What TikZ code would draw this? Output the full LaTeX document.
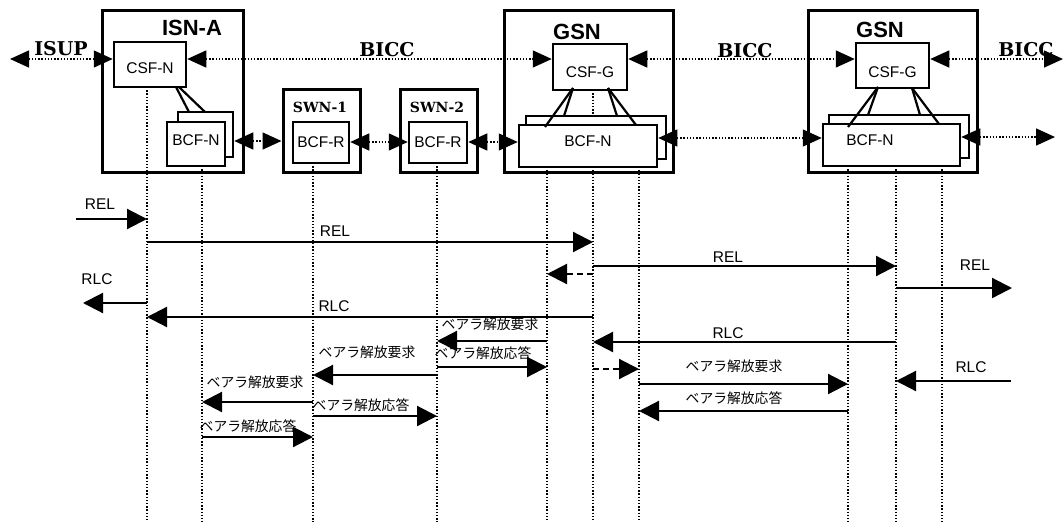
\documentclass[tikz,border=0pt]{standalone}
\usepackage{fontspec}
\setmainfont{Liberation Sans}
\newfontfamily\jpfont{Noto Sans CJK JP}
\newfontfamily\serifbold{DejaVu Serif}
\usetikzlibrary{arrows.meta,calc}
\tikzset{
  outerbox/.style={draw, line width=3pt, inner sep=0pt},
  innerbox/.style={draw, line width=2.5pt, inner sep=0pt, fill=white},
  conn/.style={line width=1.4pt, dash pattern=on 1.4pt off 1.8pt,
     {Triangle[length=19pt,width=17pt]}-{Triangle[length=19pt,width=17pt]}},
  msg/.style={line width=2.2pt, -{Triangle[length=20pt,width=20pt]}},
  dmsg/.style={msg, dash pattern=on 6pt off 4pt},
  life/.style={line width=1.4pt, dash pattern=on 1.3pt off 1.9pt},
  link/.style={line width=2.2pt},
  lbl/.style={inner sep=0pt, font=\fontsize{15.5}{17}\selectfont},
  jlbl/.style={inner sep=0pt, font=\jpfont\fontsize{13.8}{15}\selectfont},
  big/.style={inner sep=0pt, font=\fontsize{22}{24}\selectfont\bfseries},
  sbig/.style={inner sep=0pt, font=\serifbold\fontsize{19}{21}\selectfont\bfseries},
  ssmall/.style={inner sep=0pt, font=\serifbold\fontsize{14}{16}\selectfont\bfseries},
}
\begin{document}
\begin{tikzpicture}[x=1pt,y=-1pt]
\useasboundingbox (0,0) rectangle (1064,525);

% ---------- ISN-A ----------
\node[outerbox, minimum width=141pt, minimum height=162pt] (isn) at (172.5,91) {};
\node[big] (isnl) at (192,28) {ISN-A};
\node[innerbox, minimum width=72pt, minimum height=45pt] (csfn) at (150,64.5) {};
\node[lbl] (csfnl) at (150,68) {CSF-N};
\node[innerbox, minimum width=55pt, minimum height=45pt] (bnb) at (205.5,134.5) {};
\node[innerbox, minimum width=58pt, minimum height=44pt] (bnf) at (196,144) {};
\node[lbl] (bnfl) at (196,140) {BCF-N};
\coordinate (isnA1) at (176,87); \coordinate (isnB1) at (189,112);
\coordinate (isnA2) at (179,87); \coordinate (isnB2) at (205,112);
\draw[link] (isnA1) -- (isnB1);
\draw[link] (isnA2) -- (isnB2);

% ---------- SWN-1 ----------
\node[outerbox, minimum width=77pt, minimum height=83pt] (swn1) at (321.5,130.5) {};
\node[ssmall] (swn1l) at (320,107) {SWN-1};
\node[innerbox, minimum width=56pt, minimum height=41pt] (bcfr1) at (321,142.5) {};
\node[lbl] (bcfr1l) at (321,142) {BCF-R};

% ---------- SWN-2 ----------
\node[outerbox, minimum width=77pt, minimum height=83pt] (swn2) at (438.5,130.5) {};
\node[ssmall] (swn2l) at (437,107) {SWN-2};
\node[innerbox, minimum width=58pt, minimum height=41pt] (bcfr2) at (438,142.5) {};
\node[lbl] (bcfr2l) at (438,142) {BCF-R};

% ---------- GSN 1 ----------
\node[outerbox, minimum width=169pt, minimum height=162pt] (gsn1) at (588.5,91) {};
\node[big] (gsn1l) at (577,32) {GSN};
\node[innerbox, minimum width=74pt, minimum height=46pt] (csfg1) at (590,67) {};
\node[lbl] (csfg1l) at (590,72) {CSF-G};
\node[innerbox, minimum width=140pt, minimum height=43pt] (gb1) at (596,137.5) {};
\node[innerbox, minimum width=138pt, minimum height=42pt] (gf1) at (588,146) {};
\node[lbl] (gf1l) at (588,141) {BCF-N};
\coordinate (g1a) at (573,88); \coordinate (g1b) at (608,88);
\coordinate (g1c) at (545,127); \coordinate (g1d) at (564,116);
\coordinate (g1e) at (617,116); \coordinate (g1f) at (636,125);
\draw[link] (g1a) -- (g1c);
\draw[link] (g1a) -- (g1d);
\draw[link] (g1b) -- (g1e);
\draw[link] (g1b) -- (g1f);
\coordinate (g1m1) at (593,90); \coordinate (g1m2) at (593,116);
\draw[life] (g1m1) -- (g1m2);

% ---------- GSN 2 ----------
\node[outerbox, minimum width=169pt, minimum height=162pt] (gsn2) at (892.5,91) {};
\node[big] (gsn2l) at (880,30) {GSN};
\node[innerbox, minimum width=73pt, minimum height=45pt] (csfg2) at (892.5,65.5) {};
\node[lbl] (csfg2l) at (892.5,72) {CSF-G};
\node[innerbox, minimum width=140pt, minimum height=43pt] (gb2) at (899,136.5) {};
\node[innerbox, minimum width=137pt, minimum height=42pt] (gf2) at (891.5,145) {};
\node[lbl] (gf2l) at (870,140) {BCF-N};
\coordinate (g2a) at (878,87); \coordinate (g2b) at (912,88);
\coordinate (g2c) at (848,127); \coordinate (g2d) at (868,115);
\coordinate (g2e) at (920,115); \coordinate (g2f) at (939,124);
\draw[link] (g2a) -- (g2c);
\draw[link] (g2a) -- (g2d);
\draw[link] (g2b) -- (g2e);
\draw[link] (g2b) -- (g2f);

% ---------- top signalling row ----------
\coordinate (isupL) at (10,59);
\coordinate (biccR) at (1063,59);
\draw[conn] (isupL) -- (csfn.west |- isupL);
\draw[conn] (csfn.east |- isupL) -- (csfg1.west |- isupL);
\draw[conn] (csfg1.east |- isupL) -- (csfg2.west |- isupL);
\draw[conn] (csfg2.east |- isupL) -- (biccR);
\node[sbig] (isupl) at (61,49) {ISUP};
\node[sbig] (bicc1) at (387,50) {BICC};
\node[sbig] (bicc2) at (745,51) {BICC};
\node[sbig] (bicc3) at (1026,50) {BICC};

% ---------- bearer row ----------
\coordinate (bcfR) at (1055,137);
\draw[conn] (bnb.east |- 0,141) -- (swn1.west |- 0,141);
\draw[conn] (bcfr1.east |- 0,142) -- (bcfr2.west |- 0,142);
\draw[conn] (bcfr2.east |- 0,142) -- (gf1.west |- 0,142);
\draw[conn] (gf1.east |- 0,138) -- (gf2.west |- 0,138);
\draw[conn] (gf2.east |- 0,137) -- (bcfR);

% ---------- lifelines ----------
\coordinate (l1) at (147,87);
\coordinate (l2) at (202,166);
\coordinate (l3) at (313,163);
\coordinate (l4) at (437,163);
\coordinate (l5) at (547,167);
\coordinate (l6) at (593,167);
\coordinate (l7) at (639,167);
\coordinate (l8) at (848,166);
\coordinate (l9) at (896,166);
\coordinate (l10) at (942,166);
\foreach \l in {l1,l2,l3,l4,l5,l6,l7,l8,l9,l10}{
  \draw[life] (\l) -- (\l |- 0,522);
}

% ---------- messages ----------
\coordinate (relIn) at (76,219);
\coordinate (relOut) at (1012,288);
\coordinate (rlcOut) at (83,303);
\coordinate (rlcIn) at (1011,381);

\draw[msg] (relIn) -- (l1 |- relIn);
\node[lbl] (m1) at (100,204) {REL};
\draw[msg] (l1 |- 0,242) -- (l6 |- 0,242);
\node[lbl] (m2) at (335,231) {REL};
\draw[msg] (l6 |- 0,266) -- (l9 |- 0,266);
\node[lbl] (m3) at (728,257) {REL};
\draw[dmsg] (l6 |- 0,274) -- (l5 |- 0,274);
\draw[msg] (l9 |- relOut) -- (relOut);
\node[lbl] (m4) at (975,265) {REL};
\draw[msg] (l1 |- rlcOut) -- (rlcOut);
\node[lbl] (m5) at (97,279) {RLC};
\draw[msg] (l6 |- 0,317) -- (l1 |- 0,317);
\node[lbl] (m6) at (334,306) {RLC};
\draw[msg] (l5 |- 0,341) -- (l4 |- 0,341);
\node[jlbl] (m7) at (490,324) {ベアラ解放要求};
\draw[msg] (l9 |- 0,342) -- (l6 |- 0,342);
\node[lbl] (m8) at (728,333) {RLC};
\draw[msg] (l4 |- 0,367) -- (l5 |- 0,367);
\node[jlbl] (m9) at (483,353) {ベアラ解放応答};
\draw[dmsg] (l6 |- 0,369) -- (l7 |- 0,369);
\draw[msg] (l7 |- 0,384) -- (l8 |- 0,384);
\node[jlbl] (m10) at (734,366) {ベアラ解放要求};
\draw[msg] (rlcIn) -- (l9 |- rlcIn);
\node[lbl] (m11) at (971,367) {RLC};
\draw[msg] (l4 |- 0,375) -- (l3 |- 0,375);
\node[jlbl] (m12) at (367,352) {ベアラ解放要求};
\draw[msg] (l8 |- 0,411) -- (l7 |- 0,411);
\node[jlbl] (m13) at (734,398) {ベアラ解放応答};
\draw[msg] (l3 |- 0,402) -- (l2 |- 0,402);
\node[jlbl] (m14) at (255,382) {ベアラ解放要求};
\draw[msg] (l3 |- 0,416) -- (l4 |- 0,416);
\node[jlbl] (m15) at (361,405) {ベアラ解放応答};
\draw[msg] (l2 |- 0,437) -- (l3 |- 0,437);
\node[jlbl] (m16) at (248,426) {ベアラ解放応答};
\end{tikzpicture}
\end{document}
